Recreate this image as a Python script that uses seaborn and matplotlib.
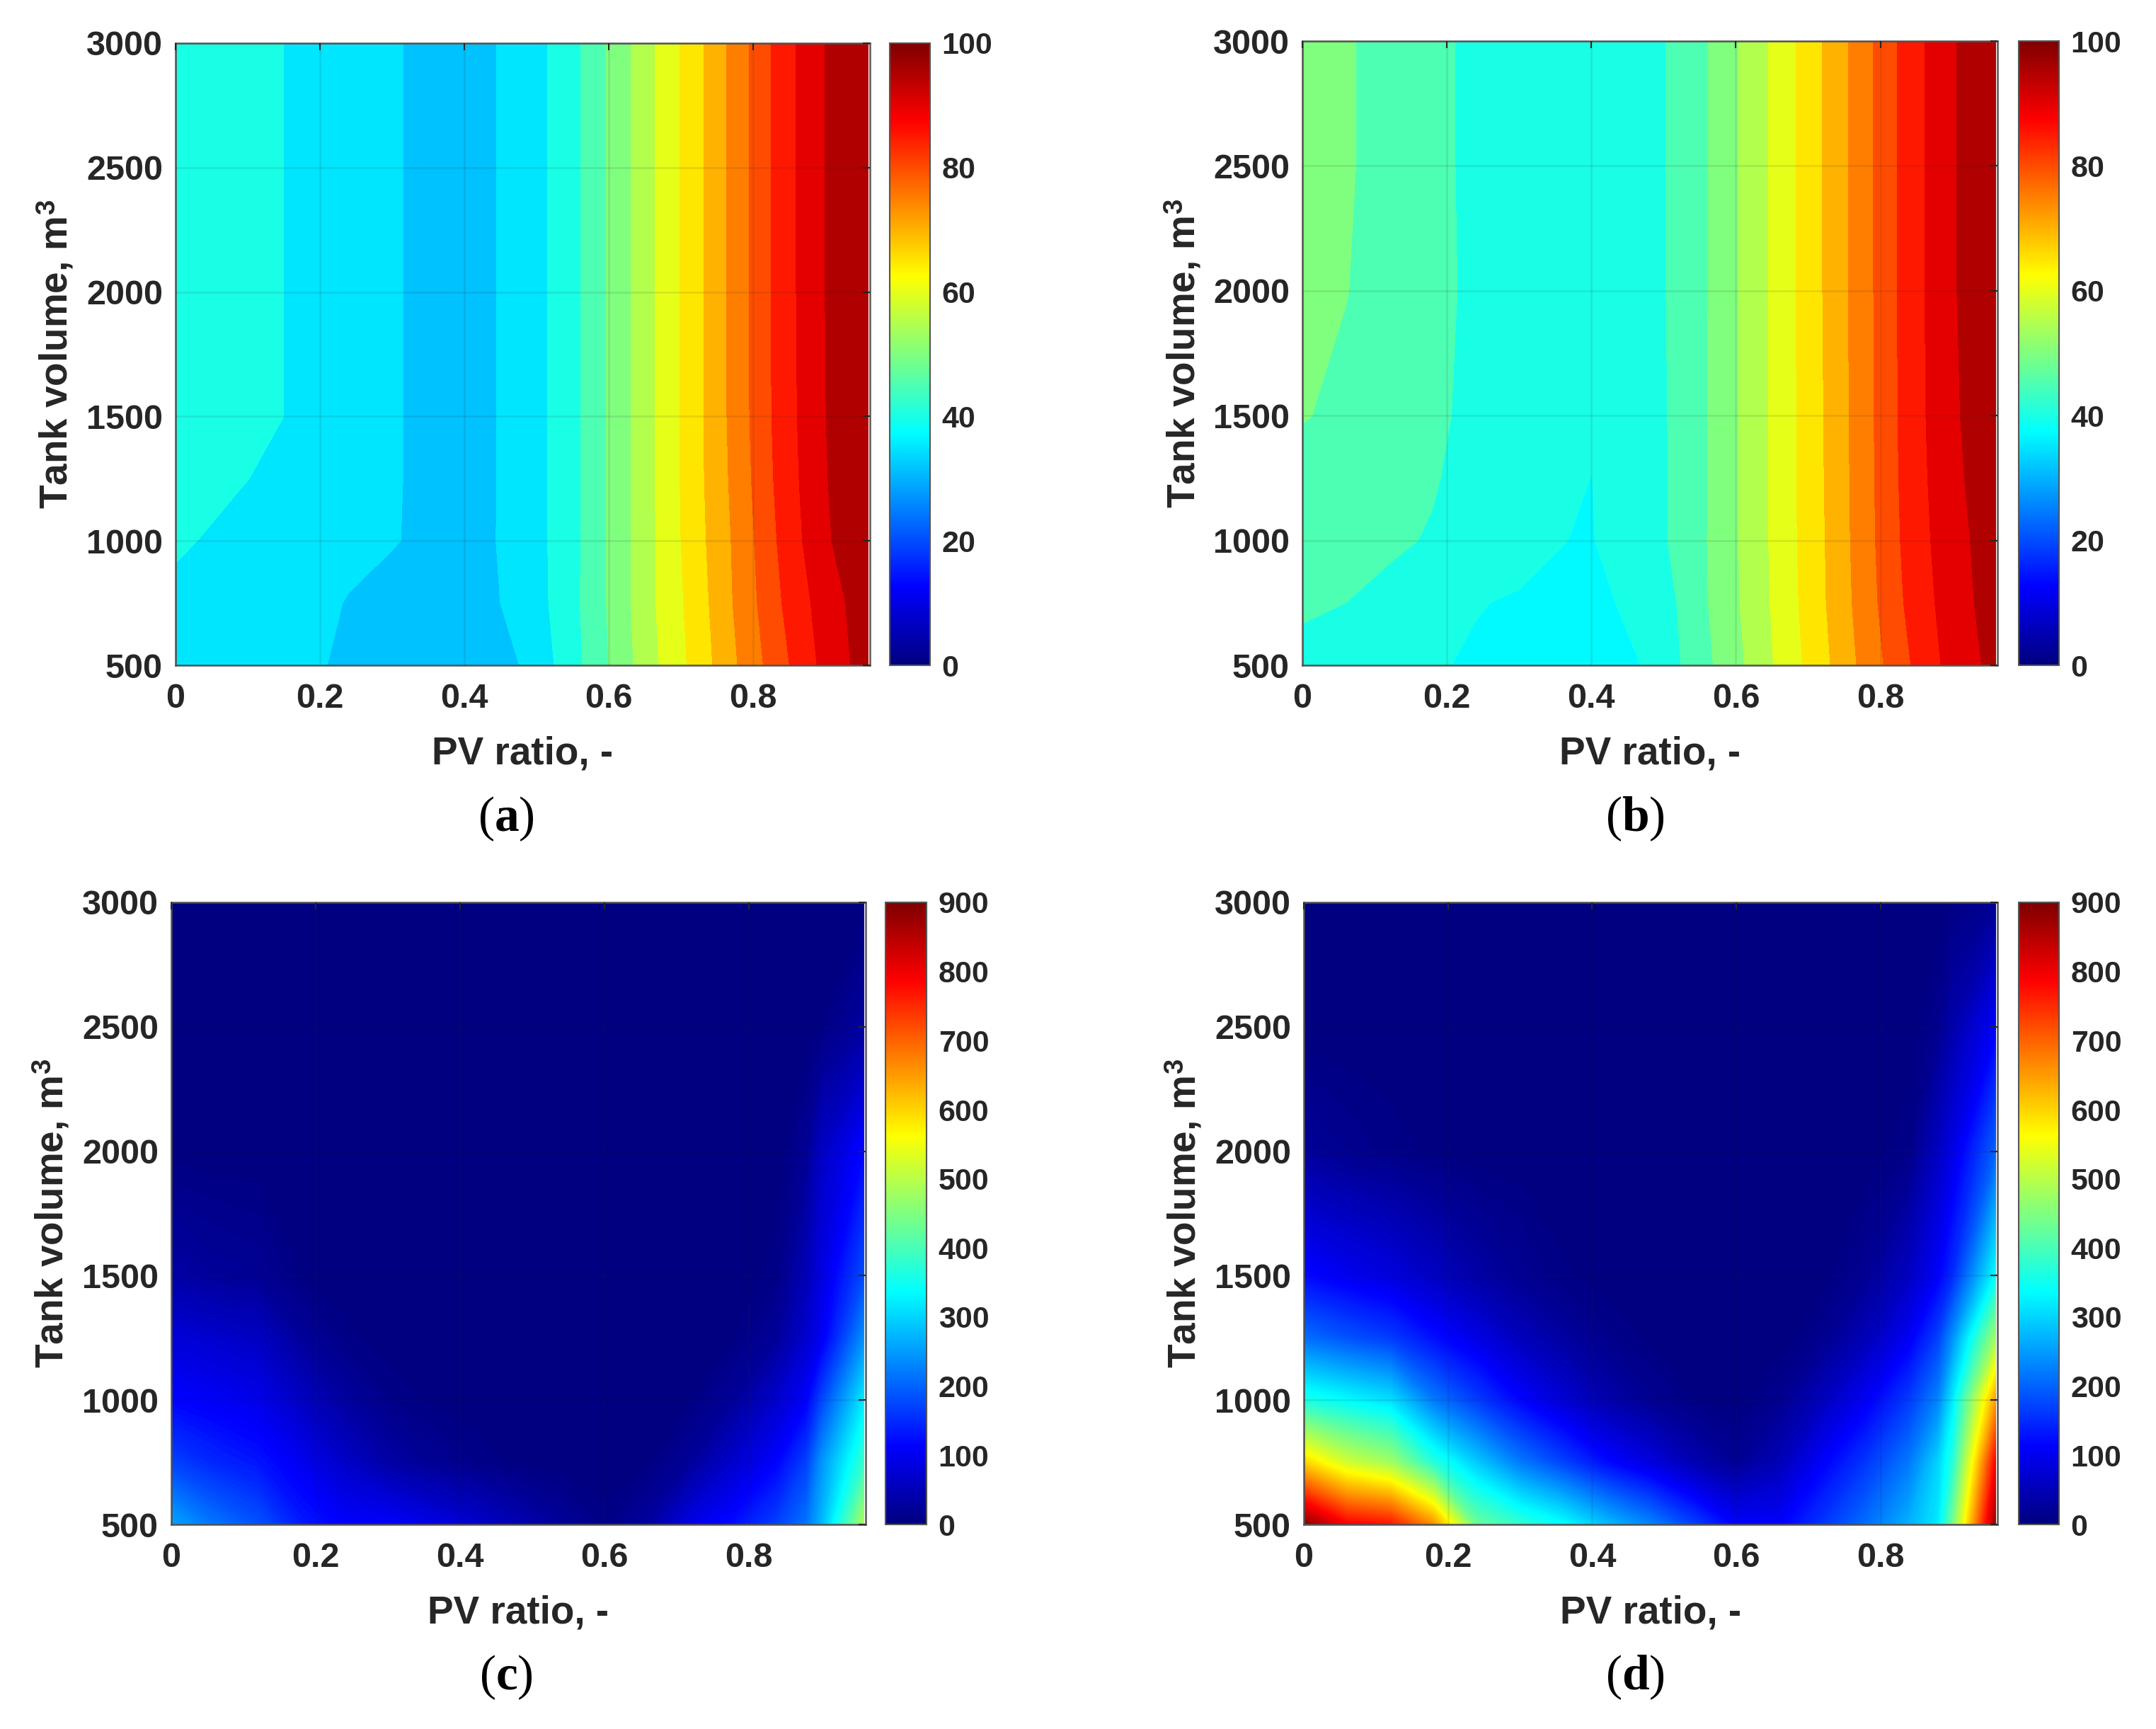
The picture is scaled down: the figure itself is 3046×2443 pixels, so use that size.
import numpy as np
import matplotlib
matplotlib.use('Agg')
import matplotlib.pyplot as plt
from matplotlib.cm import ScalarMappable
from matplotlib.colors import LinearSegmentedColormap, Normalize
import seaborn as sns

sns.set_theme(style='white')
plt.rcParams['font.family'] = ['Liberation Sans', 'DejaVu Sans']
plt.rcParams['mathtext.fontset'] = 'custom'
plt.rcParams['mathtext.bf'] = 'Liberation Sans:bold'
plt.rcParams['mathtext.it'] = 'Liberation Serif:bold'
plt.rcParams['mathtext.rm'] = 'Liberation Sans'

dark = '#262626'
W, H = 3046, 2443

pv_ratio_a = [0, .06, .12, .18, .24, .30, .36, .42, .48, .54, .60, .66, .72, .78, .84, .90, .96]
pv_ratio_b = [0, .06, .12, .18, .24, .30, .36, .40, .48, .54, .60, .66, .72, .78, .84, .90, .96]
pv_ratio_cd = [0, .06, .12, .18, .24, .30, .36, .42, .48, .54, .60, .66, .72, .78, .84, .88, .90, .96]
tank_volume = [500, 750, 1000, 1250, 1500, 2000, 2500, 3000]

share_a = [
    [35.5, 35.2, 34.6, 33.2, 31.8, 31.3, 31.0, 31.0, 32.6, 39.2, 47.5, 56.2, 64.0, 72.7, 81.1, 89.0, 95.0],
    [36.6, 36.0, 35.6, 34.3, 32.2, 31.4, 31.0, 31.0, 34.0, 39.7, 47.9, 56.8, 64.6, 73.7, 82.5, 90.0, 95.3],
    [38.0, 37.0, 36.0, 35.2, 34.0, 32.7, 31.7, 31.1, 34.6, 39.5, 47.9, 56.8, 65.3, 74.0, 83.6, 91.8, 96.5],
    [39.0, 38.2, 37.2, 36.4, 34.8, 32.8, 31.6, 31.0, 34.6, 39.5, 47.9, 56.8, 65.6, 74.6, 84.4, 92.2, 96.8],
    [39.5, 39.0, 38.0, 37.0, 35.0, 32.8, 31.6, 31.0, 34.6, 39.5, 47.9, 56.8, 65.7, 75.0, 84.8, 92.4, 97.0],
    [39.5, 39.0, 38.0, 37.0, 35.0, 32.8, 31.6, 31.0, 34.6, 39.5, 47.9, 56.8, 65.7, 75.0, 85.0, 92.5, 97.0],
    [39.5, 39.0, 38.0, 37.0, 35.0, 32.8, 31.6, 31.0, 34.6, 39.5, 47.9, 56.8, 65.7, 75.0, 85.0, 92.5, 97.0],
    [39.5, 39.0, 38.0, 37.0, 35.0, 32.8, 31.6, 31.0, 34.6, 39.5, 47.9, 56.8, 65.7, 75.0, 85.0, 92.5, 97.0],
]

share_b = [
    [40.5, 40.0, 39.0, 37.9, 37.0, 36.9, 36.8, 36.9, 37.6, 44.3, 51.0, 58.5, 66.0, 74.3, 82.2, 89.5, 94.0],
    [43.5, 42.5, 41.5, 40.0, 37.7, 37.1, 37.0, 37.0, 38.2, 45.0, 51.9, 59.0, 66.8, 75.2, 83.6, 90.2, 94.8],
    [45.0, 44.0, 43.1, 42.2, 40.7, 39.0, 37.55, 37.3, 40.5, 45.2, 52.0, 59.3, 67.0, 75.6, 84.3, 90.8, 95.0],
    [46.2, 45.3, 44.0, 42.8, 41.2, 40.0, 38.6, 37.45, 40.5, 45.1, 52.0, 59.3, 67.2, 75.7, 84.7, 91.3, 95.7],
    [47.7, 46.8, 45.0, 43.2, 41.6, 40.7, 40.0, 39.7, 40.6, 45.1, 52.0, 59.3, 67.3, 75.8, 84.9, 91.7, 96.2],
    [49.0, 47.6, 46.2, 43.7, 41.6, 41.0, 40.7, 40.7, 40.9, 45.0, 52.0, 59.3, 67.5, 75.9, 85.0, 92.0, 97.0],
    [49.0, 47.8, 46.5, 43.5, 41.6, 41.0, 40.7, 40.7, 40.9, 45.0, 52.0, 59.3, 67.5, 75.9, 85.0, 92.0, 97.0],
    [49.0, 47.8, 46.5, 43.5, 41.6, 41.0, 40.7, 40.7, 40.9, 45.0, 52.0, 59.3, 67.5, 75.9, 85.0, 92.0, 97.0],
]

excess_c = [
    [260, 215, 185, 135, 110, 110, 90, 70, 45, 25, 8, 30, 90, 125, 170, 215, 270, 490],
    [170, 145, 130, 100, 65, 35, 20, 10, 3, 0, 0, 2, 25, 70, 115, 170, 240, 385],
    [115, 105, 95, 60, 30, 10, 3, 0, 0, 0, 0, 0, 5, 25, 70, 110, 170, 320],
    [80, 70, 60, 25, 8, 0, 0, 0, 0, 0, 0, 0, 0, 5, 25, 70, 100, 240],
    [35, 25, 20, 5, 0, 0, 0, 0, 0, 0, 0, 0, 0, 0, 8, 50, 85, 180],
    [2, 0, 0, 0, 0, 0, 0, 0, 0, 0, 0, 0, 0, 0, 0, 20, 60, 120],
    [0, 0, 0, 0, 0, 0, 0, 0, 0, 0, 0, 0, 0, 0, 0, 0, 5, 30],
    [0, 0, 0, 0, 0, 0, 0, 0, 0, 0, 0, 0, 0, 0, 0, 0, 0, 0],
]

excess_d = [
    [890, 790, 770, 660, 430, 380, 340, 280, 230, 170, 110, 110, 160, 210, 270, 320, 440, 880],
    [600, 520, 480, 370, 290, 220, 170, 120, 85, 45, 20, 50, 110, 160, 220, 300, 370, 790],
    [360, 335, 310, 220, 165, 115, 75, 40, 18, 5, 2, 15, 55, 105, 165, 230, 320, 650],
    [210, 185, 165, 125, 90, 55, 30, 12, 3, 0, 0, 0, 15, 50, 105, 170, 240, 480],
    [120, 100, 85, 60, 35, 18, 6, 1, 0, 0, 0, 0, 2, 20, 60, 110, 150, 340],
    [25, 15, 8, 3, 0, 0, 0, 0, 0, 0, 0, 0, 0, 0, 10, 60, 90, 200],
    [0, 0, 0, 0, 0, 0, 0, 0, 0, 0, 0, 0, 0, 0, 0, 15, 40, 110],
    [0, 0, 0, 0, 0, 0, 0, 0, 0, 0, 0, 0, 0, 0, 0, 0, 5, 20],
]

share_ticks = [0, 20, 40, 60, 80, 100]
excess_ticks = [0, 100, 200, 300, 400, 500, 600, 700, 800, 900]
x_ticks = [0, 0.2, 0.4, 0.6, 0.8]
x_labels = ['0', '0.2', '0.4', '0.6', '0.8']
y_ticks = [500, 1000, 1500, 2000, 2500, 3000]

levels_a = [30.5, 32.5] + list(np.arange(37.5, 100, 5)) + [100]
levels_b = [36.5] + list(np.arange(37.5, 100, 5)) + [100]
levels_fine = np.linspace(0, 900, 181)

# seaborn refuses 'jet', and matlab's jet is a bit different from matplotlib's anyway
cmap = LinearSegmentedColormap.from_list('matlab_jet', [
    (0, (0, 0, .5)), (.125, (0, 0, 1)), (.375, (0, 1, 1)),
    (.625, (1, 1, 0)), (.875, (1, 0, 0)), (1, (.5, 0, 0))], N=512)

fig = plt.figure(figsize=(W / 100, H / 100), dpi=100, facecolor='white')


def px_axes(left, right, top, bottom):
    return fig.add_axes([left / W, 1 - bottom / H, (right - left) / W, (bottom - top) / H])


def panel(x, z, levels, vmax, cticks, box, cbox, letter, cap_xy):
    left, right, top, bottom = box
    ax = px_axes(left, right, top, bottom)
    X, Y = np.meshgrid(x, tank_volume)
    ax.contourf(X, Y, np.array(z), levels=levels, cmap=cmap, vmin=0, vmax=vmax, antialiased=False)
    ax.set_xlim(0, 0.962)
    ax.set_ylim(500, 3000)
    ax.set_xticks(x_ticks, x_labels)
    ax.set_yticks(y_ticks)
    ax.set_axisbelow(False)
    ax.grid(True, color=dark, alpha=0.1, lw=2)
    ax.tick_params(direction='in', length=7, width=1.5, color=dark, top=True, right=True,
                   labelsize=35, labelcolor=dark)
    ax.tick_params(axis='x', pad=18)
    ax.tick_params(axis='y', pad=13)
    for lab in ax.get_xticklabels() + ax.get_yticklabels():
        lab.set_fontweight('bold')
    for s in ax.spines.values():
        s.set_color('#555555')
        s.set_linewidth(1.8)
    ax.set_xlabel('PV ratio, -', fontsize=39.5, fontweight='bold', color=dark)
    ax.set_ylabel(r'Tank volume, m$^{\mathbf{3}}$', fontsize=39.5, fontweight='bold', color=dark)
    wid = right - left
    hei = bottom - top
    ax.xaxis.set_label_coords(0.5, -99 / hei)
    ax.yaxis.set_label_coords(-140 / wid, 0.5)

    cax = px_axes(cbox[0], cbox[1], top, bottom)
    cb = fig.colorbar(ScalarMappable(Normalize(0, vmax), cmap), cax=cax, ticks=cticks)
    cb.ax.tick_params(direction='in', length=7, width=1.5, color=dark, labelsize=31,
                      labelcolor=dark, pad=12)
    for lab in cb.ax.get_yticklabels():
        lab.set_fontweight('bold')
    cb.outline.set_edgecolor('#555555')
    cb.outline.set_linewidth(1.5)

    fig.text(cap_xy[0] / W, 1 - cap_xy[1] / H, '($\\mathit{%s}$)' % letter, family='Liberation Serif',
             fontsize=50, color='black', ha='center', va='center')


panel(pv_ratio_a, share_a, levels_a, 100, share_ticks, (248, 1229, 61, 940), (1257, 1314), 'a', (715, 1157))
panel(pv_ratio_b, share_b, levels_b, 100, share_ticks, (1840, 2822, 58, 940), (2852, 2909), 'b', (2310, 1157))
panel(pv_ratio_cd, excess_c, levels_fine, 900, excess_ticks, (242, 1223, 1275, 2154), (1251, 1309), 'c', (715, 2370))
panel(pv_ratio_cd, excess_d, levels_fine, 900, excess_ticks, (1842, 2822, 1275, 2154), (2852, 2909), 'd', (2310, 2370))

fig.savefig('out.png', dpi=100)
plt.close(fig)
